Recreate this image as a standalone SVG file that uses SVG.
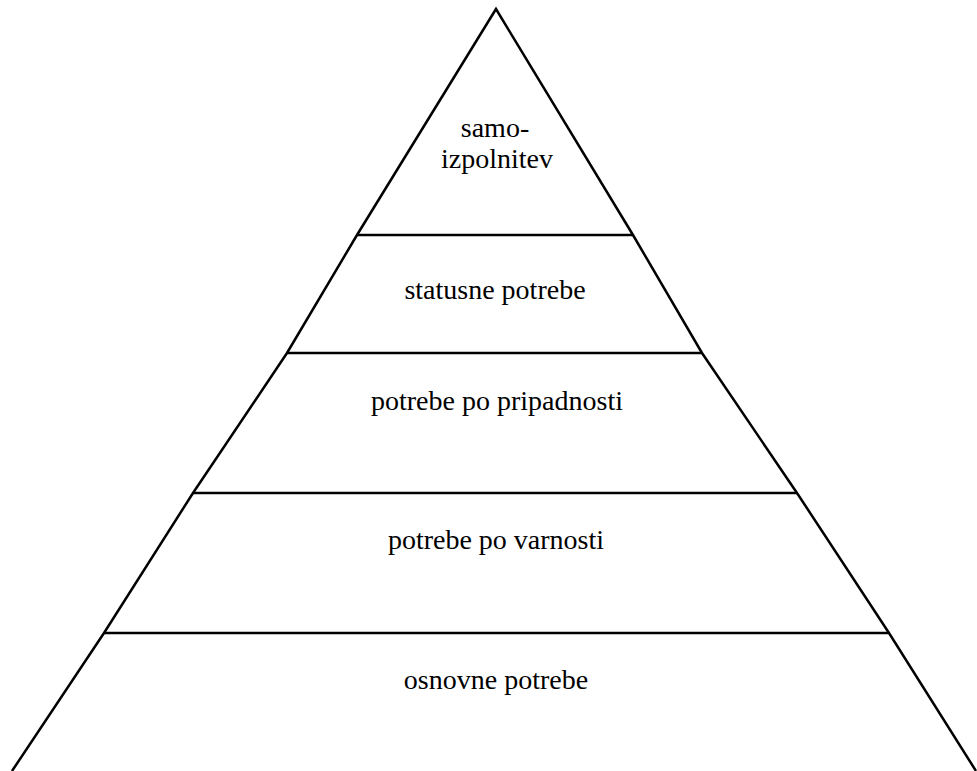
<svg xmlns="http://www.w3.org/2000/svg" width="977" height="771" viewBox="0 0 977 771">
<style>
.edge{fill:none;stroke:#000;stroke-width:2.5;stroke-linejoin:miter}
.lbl{font-family:"Liberation Serif","Times New Roman",serif;font-size:28px;fill:#000;text-anchor:middle}
</style>
<rect width="977" height="771" fill="#fff"/>
<g id="outline">
<polyline class="edge" points="12,771 104,633 193,493 287,353 357,235 496,9 633,235 702,353 797,493 889,633 976,771"/>
</g>
<g id="connectors">
<line class="edge" x1="357" y1="235" x2="633" y2="235"/>
<line class="edge" x1="287" y1="353" x2="702" y2="353"/>
<line class="edge" x1="193" y1="493" x2="797" y2="493"/>
<line class="edge" x1="104" y1="633" x2="889" y2="633"/>
</g>
<g id="level5"><text class="lbl" x="495" y="137">samo-</text><text class="lbl" x="497" y="168">izpolnitev</text></g>
<g id="level4"><text class="lbl" x="495" y="299">statusne potrebe</text></g>
<g id="level3"><text class="lbl" x="497" y="410">potrebe po pripadnosti</text></g>
<g id="level2"><text class="lbl" x="496" y="549">potrebe po varnosti</text></g>
<g id="level1"><text class="lbl" x="496" y="689">osnovne potrebe</text></g>
</svg>
